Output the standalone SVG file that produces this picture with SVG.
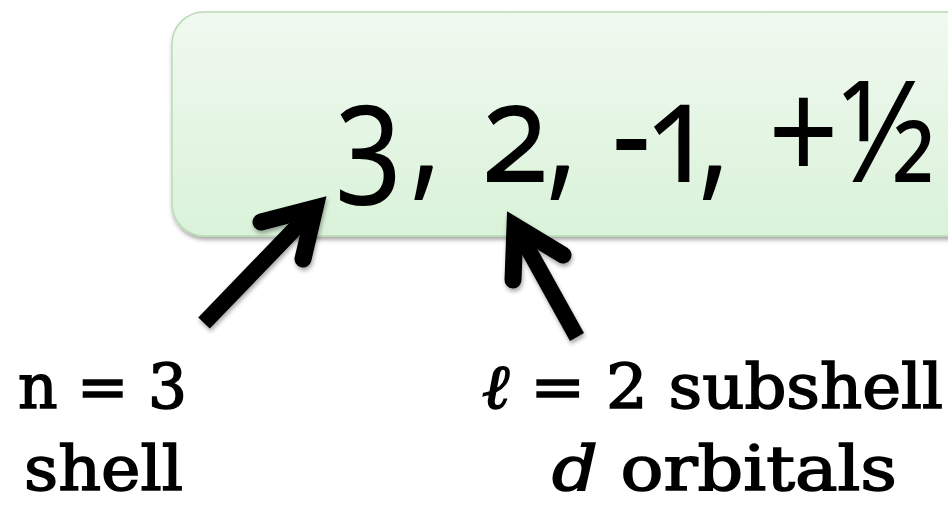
<svg xmlns="http://www.w3.org/2000/svg" width="948" height="508" viewBox="0 0 948 508">
  <defs>
    <linearGradient id="boxFill" x1="0" y1="0" x2="0" y2="1">
      <stop offset="0" stop-color="#f1f9f0"/>
      <stop offset="1" stop-color="#d9f2d9"/>
    </linearGradient>
    <filter id="shadow" x="-10%" y="-10%" width="130%" height="130%">
      <feDropShadow dx="1" dy="3" stdDeviation="2" flood-color="#000" flood-opacity="0.35"/>
    </filter>
    <style>
      .main { font-family: "Noto Sans", "Open Sans", sans-serif; font-size: 140px; fill: #000; font-variant-numeric: oldstyle-nums; font-feature-settings: "onum" 1; }
      .lbl { font-family: "DejaVu Serif", "Liberation Serif", serif; font-size: 62px; fill: #000; stroke: #000; stroke-width: 1.6; }
      .arrow { fill: none; stroke: #000; stroke-width: 16; }
      .shaft { stroke-linecap: butt; }
      .head { stroke-linecap: round; stroke-linejoin: miter; stroke-miterlimit: 10; stroke-width: 17; }
    </style>
  </defs>

  <g id="box">
    <rect x="172" y="12" width="820" height="224" rx="32" ry="32" fill="url(#boxFill)" stroke="#b9dbb5" stroke-width="1.5" filter="url(#shadow)"/>
    <text class="main" transform="scale(0.88 1)" x="381 465 492 547 620 648 695 733 793 824 873 955" y="182">3, 2, -1, +½</text>
  </g>

  <g id="connectors" filter="url(#shadow)">
    <g id="arrow-n">
      <line class="arrow shaft" x1="204" y1="323" x2="312" y2="211"/>
      <polyline class="arrow head" points="261,222 315,208 303,259"/>
    </g>
    <g id="arrow-l">
      <line class="arrow shaft" x1="577" y1="337" x2="517" y2="229"/>
      <polyline class="arrow head" points="513,280 515,226 563,255"/>
    </g>
  </g>

  <g id="label-n">
    <text class="lbl" x="18" y="408" textLength="169" lengthAdjust="spacingAndGlyphs">n = 3</text>
    <text class="lbl" x="24" y="490" textLength="159" lengthAdjust="spacingAndGlyphs">shell</text>
  </g>

  <g id="label-l">
    <text class="lbl" x="482" y="408" textLength="461" lengthAdjust="spacingAndGlyphs"><tspan font-style="italic">ℓ</tspan> = 2 subshell</text>
    <text class="lbl" x="552" y="490" textLength="345" lengthAdjust="spacingAndGlyphs"><tspan font-style="italic">d</tspan> orbitals</text>
  </g>
</svg>
